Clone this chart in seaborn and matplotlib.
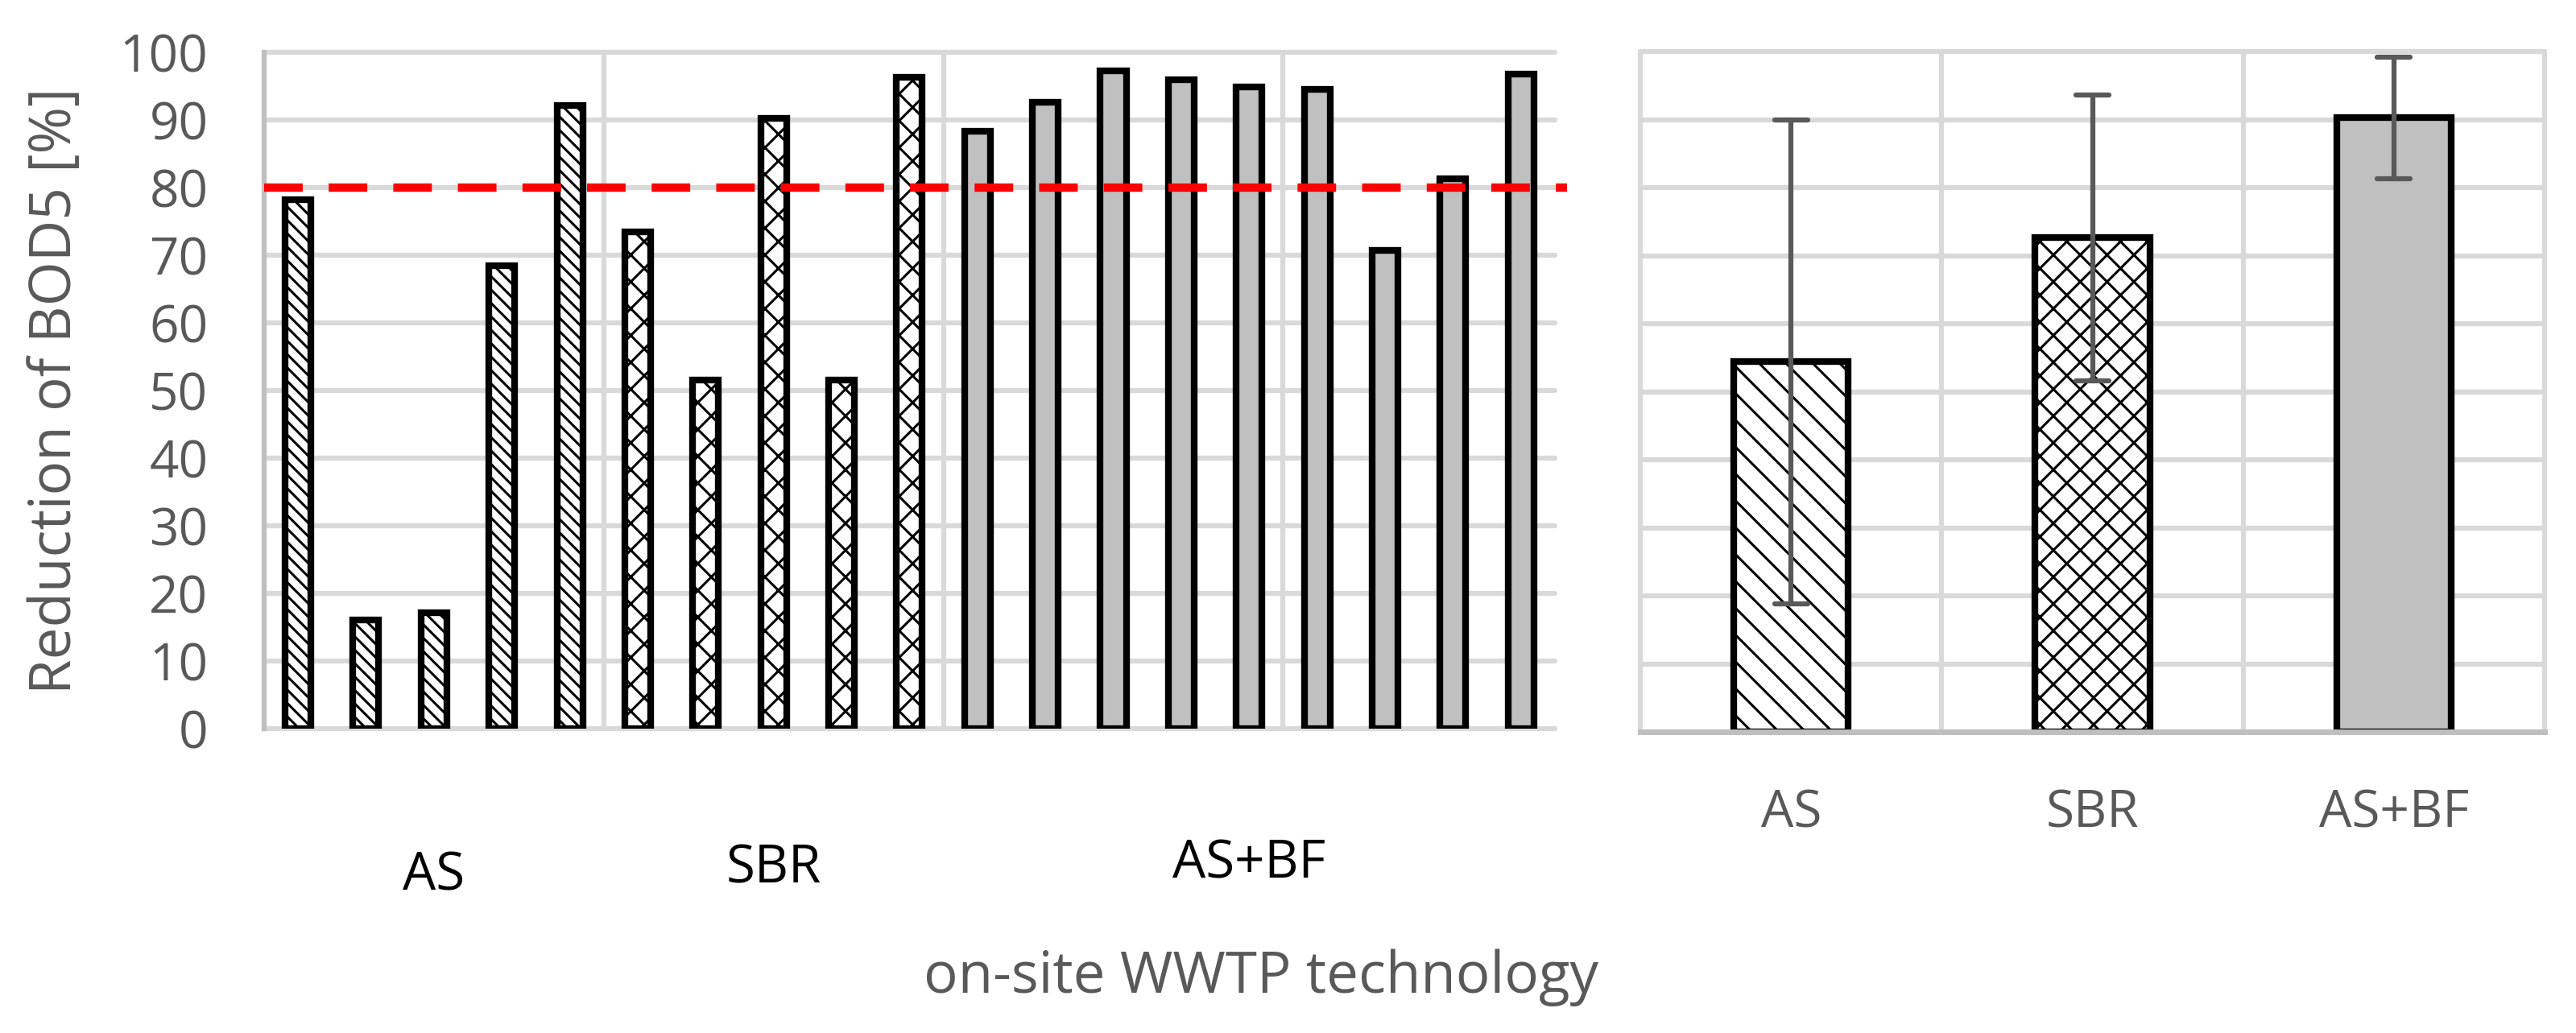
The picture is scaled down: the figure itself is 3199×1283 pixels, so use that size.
import numpy as np
import pandas as pd
import matplotlib
matplotlib.use("Agg")
import matplotlib.pyplot as plt
import matplotlib.transforms as mtransforms
import seaborn as sns

# ─── DATA ───────────────────────────────────────────────
TECHS = ["AS", "SBR", "AS+BF"]
AS_VALUES = [78.2, 16.1, 17.1, 68.4, 92.2]
SBR_VALUES = [73.5, 51.5, 90.3, 51.5, 96.3]
ASBF_VALUES = [88.3, 92.6, 97.3, 96.0, 94.9, 94.5, 70.7, 81.3, 96.8]
LIMIT = 80  # required BOD5 reduction

site_tech = ["AS"] * len(AS_VALUES) + ["SBR"] * len(SBR_VALUES) + ["AS+BF"] * len(ASBF_VALUES)
site_values = AS_VALUES + SBR_VALUES + ASBF_VALUES
df = pd.DataFrame({
    "site": [str(i + 1) for i in range(len(site_values))],
    "tech": site_tech,
    "reduction": site_values,
})

# ─── STYLE ──────────────────────────────────────────────
PALETTE = {"AS": "white", "SBR": "white", "AS+BF": "#C0C0C0"}
HATCH_LEFT = {"AS": "\\\\", "SBR": "x", "AS+BF": ""}
HATCH_RIGHT = {"AS": "\\", "SBR": "x", "AS+BF": ""}
GRID = "#D9D9D9"
TEXT = "#595959"

sns.set_style("white")
plt.rcParams["font.family"] = ["Open Sans", "DejaVu Sans"]
plt.rcParams["hatch.linewidth"] = 2.2

fig = plt.figure(figsize=(31.99, 12.83), dpi=100)
ax1 = fig.add_axes([0.1025, 0.2946, 0.5011, 0.6547])
ax2 = fig.add_axes([0.6368, 0.2915, 0.3510, 0.6585])

# ─── LEFT: every plant ──────────────────────────────────
sns.barplot(data=df, x="site", y="reduction", hue="tech", hue_order=TECHS,
            palette=PALETTE, dodge=False, width=0.38, saturation=1,
            edgecolor="black", linewidth=6, errorbar=None, legend=False, ax=ax1)
for bar in ax1.patches:
    idx = int(round(bar.get_x() + bar.get_width() / 2))
    bar.set_hatch(HATCH_LEFT[site_tech[idx]])

ax1.plot([-0.5, len(site_values) - 0.32], [LIMIT, LIMIT], color="red", lw=7.5,
         dashes=(4.6, 3.1), dash_capstyle="butt", clip_on=False, zorder=5)

ax1.set_xlim(-0.5, len(site_values) - 0.5)
ax1.set_ylim(0, 100)
ax1.set_yticks(range(0, 101, 10))
ax1.set_xticks([])
ax1.set_xticks([4.5, 9.5, 14.5], minor=True)
ax1.set_axisbelow(True)
ax1.grid(axis="y", which="major", color=GRID, lw=4.5)
ax1.grid(axis="x", which="minor", color=GRID, lw=4.5)
ax1.tick_params(axis="x", which="both", length=0)
ax1.tick_params(axis="y", length=0, pad=50, labelsize=46, labelcolor=TEXT)
for line in ax1.get_ygridlines():
    line.set_clip_on(False)
for s in ["top", "right", "bottom"]:
    ax1.spines[s].set_visible(False)
ax1.spines["left"].set_color("#BFBFBF")
ax1.spines["left"].set_linewidth(4.5)

ax1.set_xlabel("")
ax1.set_ylabel("Reduction of BOD5 [%]", fontsize=51, color=TEXT, va="center")
ax1.yaxis.set_label_coords(-0.1616, 0.5)

# group names under the left chart (text boxes, slightly staggered)
trans = mtransforms.blended_transform_factory(ax1.transData, fig.transFigure)
group_pos = df.reset_index().groupby("tech")["index"].mean()
for name, yb in zip(TECHS, [0.1387, 0.145, 0.1504]):
    ax1.text(group_pos[name], yb, name, transform=trans, ha="center",
             va="baseline", fontsize=47, color="black")

# ─── RIGHT: mean +- sd per technology ───────────────────
sns.barplot(data=df, x="tech", y="reduction", order=TECHS, hue="tech",
            hue_order=TECHS, palette=PALETTE, errorbar="sd", capsize=0.11,
            err_kws={"color": TEXT, "linewidth": 4.5}, width=0.38,
            saturation=1, edgecolor="black", linewidth=6, legend=False, ax=ax2)
for bar in ax2.patches:
    idx = int(round(bar.get_x() + bar.get_width() / 2))
    bar.set_hatch(HATCH_RIGHT[TECHS[idx]])

ax2.set_xlim(-0.5, 2.5)
ax2.set_ylim(0, 100)
ax2.set_yticks(range(0, 101, 10))
ax2.set_xticks([-0.5, 0.5, 1.5, 2.5], minor=True)
ax2.set_axisbelow(True)
ax2.grid(axis="y", which="major", color=GRID, lw=4.5)
ax2.grid(axis="x", which="minor", color=GRID, lw=4.5)
ax2.tick_params(axis="y", length=0, labelleft=False)
ax2.tick_params(axis="x", which="major", length=0, pad=50, labelsize=46, labelcolor=TEXT)
ax2.tick_params(axis="x", which="minor", length=17, width=4.5, color="#C8C8C8", direction="out")
for line in ax2.get_ygridlines():
    line.set_clip_on(False)
for t in ax2.xaxis.get_minor_ticks():
    t.gridline.set_clip_on(False)
for s in ["top", "right", "left"]:
    ax2.spines[s].set_visible(False)
ax2.spines["bottom"].set_color("#BFBFBF")
ax2.spines["bottom"].set_linewidth(5)
ax2.set_xlabel("")
ax2.set_ylabel("")

fig.text(0.4895, 0.039, "on-site WWTP technology", ha="center", va="baseline",
         fontsize=51, color=TEXT)

fig.savefig("out.png", dpi=100)
